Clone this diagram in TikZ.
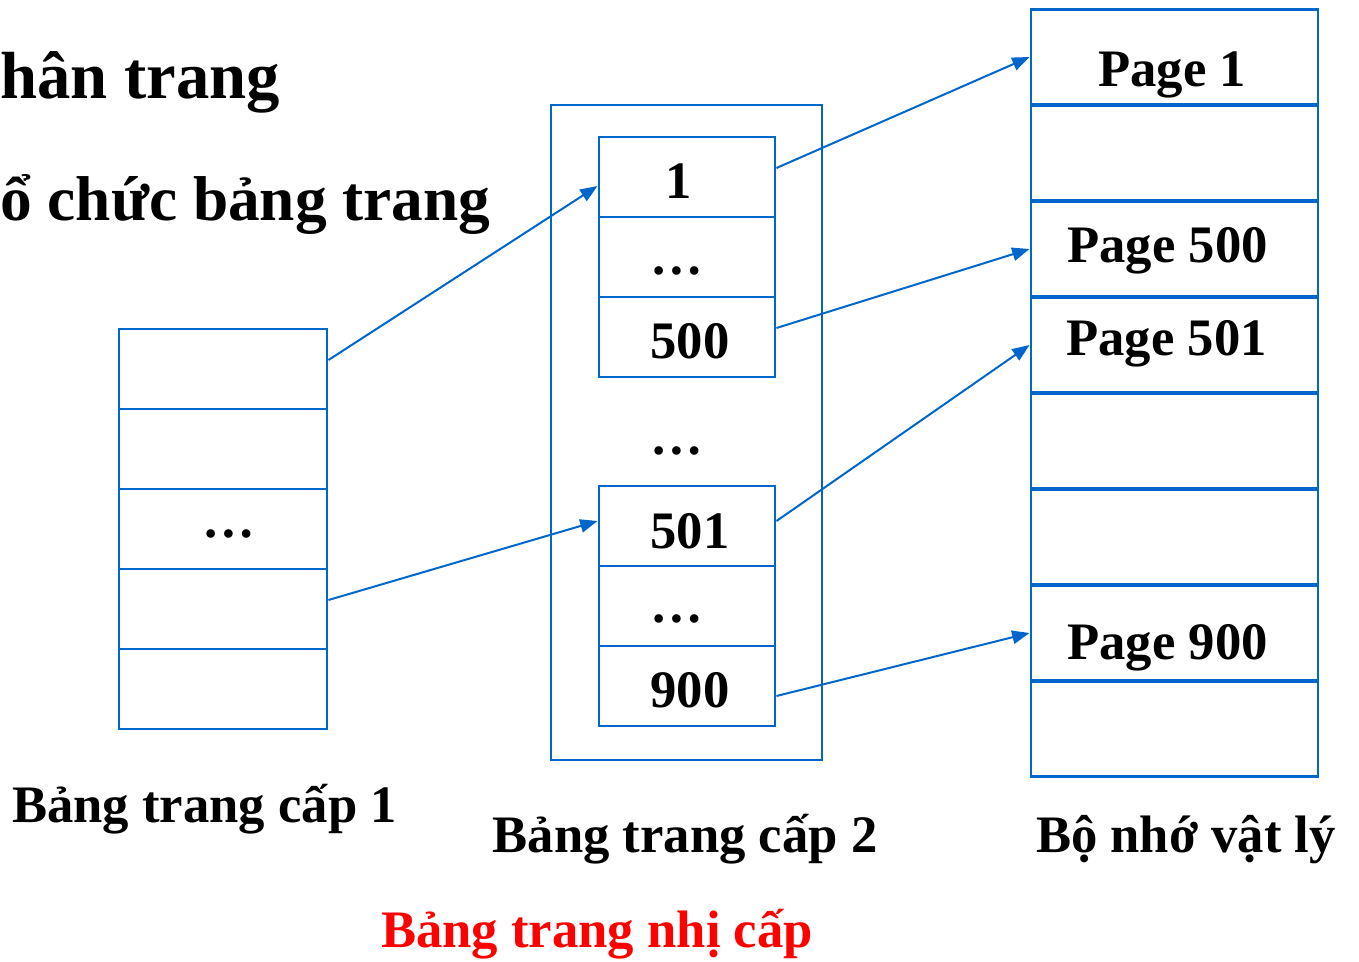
\documentclass[tikz,border=0pt]{standalone}
\usepackage{fontspec}
\setmainfont{Liberation Serif}
\usetikzlibrary{arrows.meta}
\definecolor{boxblue}{HTML}{0066CC}
\definecolor{capred}{HTML}{FF0000}
\begin{document}
\begin{tikzpicture}[x=0.75pt,y=-0.75pt,
  txt/.style={font=\bfseries\fontsize{39.5}{46}\selectfont},
  cellL/.style={draw=boxblue, line width=2.2pt, minimum width=156pt, minimum height=60pt, inner sep=0pt},
  cellT/.style={draw=boxblue, line width=2.2pt, minimum width=132pt, minimum height=60pt, inner sep=0pt},
  cellM/.style={draw=boxblue, line width=2.2pt, minimum width=215.25pt, minimum height=71.9pt, inner sep=0pt},
  outerbox/.style={draw=boxblue, line width=2.2pt, minimum width=203.25pt, minimum height=491.25pt, inner sep=0pt},
  link/.style={draw=boxblue, line width=1.5pt, -{Triangle[length=13pt,width=10pt]}},
  lbl/.style={txt, anchor=base, inner sep=0pt},
  title/.style={font=\bfseries\fontsize{50}{58}\selectfont, anchor=base west, inner sep=0pt}]
\useasboundingbox (0,0) rectangle (1359,961);

% titles (cut at the left edge)
\node[title] (t1) at (0,98) {hân trang};
\node[title, font=\bfseries\fontsize{47.5}{56}\selectfont] (t2) at (0,220) {ổ chức bảng trang};

% level-1 table
\node[cellL] (l1) at (223,369) {};
\node[cellL] (l2) at (223,449) {};
\node[cellL] (l3) at (223,529) {};
\node[cellL] (l4) at (223,609) {};
\node[cellL] (l5) at (223,689) {};
\node[lbl] (l3t) at (229,537) {…};

% level-2 table
\node[outerbox] (outer) at (686.5,432.5) {};
\node[cellT] (a1) at (687,177) {};
\node[cellT] (a2) at (687,257) {};
\node[cellT] (a3) at (687,337) {};
\node[cellT] (b1) at (687,526) {};
\node[cellT] (b2) at (687,606) {};
\node[cellT] (b3) at (687,686) {};
\node[lbl] (a1t) at (679,198) {1};
\node[lbl] (a2t) at (677,274) {…};
\node[lbl] (a3t) at (690,358) {500};
\node[lbl] (midt) at (677,454) {…};
\node[lbl] (b1t) at (690,548) {501};
\node[lbl] (b2t) at (677,622) {…};
\node[lbl] (b3t) at (690,707) {900};

% physical memory
\node[cellM] (m1) at (1174.5,57) {};
\node[cellM] (m2) at (1174.5,153) {};
\node[cellM] (m3) at (1174.5,249) {};
\node[cellM] (m4) at (1174.5,345) {};
\node[cellM] (m5) at (1174.5,441) {};
\node[cellM] (m6) at (1174.5,537) {};
\node[cellM] (m7) at (1174.5,633) {};
\node[cellM] (m8) at (1174.5,729) {};
\node[lbl] (m1t) at (1172,86) {Page 1};
\node[lbl] (m3t) at (1167.5,262) {Page 500};
\node[lbl] (m4t) at (1166.5,355) {Page 501};
\node[lbl] (m7t) at (1167.5,659) {Page 900};

% connectors
\draw[link] ([yshift=6.75pt]l1.east) -- ([yshift=-6.75pt]a1.west);
\draw[link] ([yshift=6.75pt]l4.east) -- ([yshift=3.75pt]b1.west);
\draw[link] ([yshift=6.75pt]a1.east) -- (m1.west);
\draw[link] ([yshift=6.75pt]a3.east) -- (m3.west);
\draw[link] ([yshift=3.75pt]b1.east) -- (m4.west);
\draw[link] ([yshift=-7.5pt]b3.east) -- (m7.west);

% captions
\node[lbl] (c1) at (204.5,822) {Bảng trang cấp 1};
\node[lbl] (c2) at (685,852) {Bảng trang cấp 2};
\node[lbl] (c3) at (1186,852) {Bộ nhớ vật lý};
\node[lbl, text=capred] (c4) at (597,947) {Bảng trang nhị cấp};
\end{tikzpicture}
\end{document}
